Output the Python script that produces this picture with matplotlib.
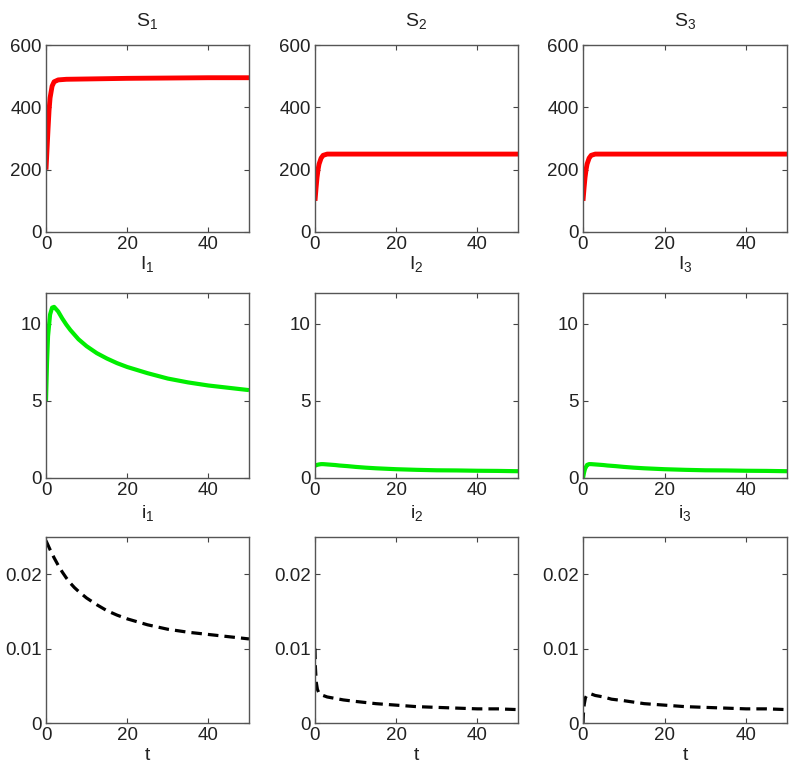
import matplotlib
matplotlib.use("Agg")
import matplotlib.pyplot as plt

plt.rcParams["font.family"] = ["Liberation Sans", "DejaVu Sans"]
plt.rcParams["mathtext.default"] = "regular"

# ---------- data ----------
t_S = [0, 0.25, 0.5, 0.75, 1, 1.5, 2, 3, 5, 10, 20, 30, 40, 50]
S1 = [200, 265, 330, 390, 430, 468, 482, 488, 490, 491, 493, 494, 495, 495]
S2 = [100, 140, 175, 200, 218, 237, 246, 250, 250, 250, 250, 250, 250, 250]
S3 = [100, 140, 175, 200, 218, 237, 246, 250, 250, 250, 250, 250, 250, 250]

t_I = [0, 0.25, 0.5, 1, 1.5, 2, 3, 4, 5, 6, 8, 10, 12.5, 15, 17.5, 20, 25,
       30, 35, 40, 45, 50]
I1 = [5, 7.5, 9.2, 10.6, 11.05, 11.1, 10.8, 10.35, 9.95, 9.6, 9.0, 8.55, 8.1,
      7.75, 7.45, 7.2, 6.8, 6.45, 6.2, 6.0, 5.85, 5.7]
I2 = [0.8, 0.82, 0.85, 0.88, 0.9, 0.9, 0.88, 0.86, 0.84, 0.81, 0.77, 0.72,
      0.67, 0.63, 0.6, 0.57, 0.53, 0.5, 0.49, 0.47, 0.46, 0.44]
I3 = [0, 0.35, 0.6, 0.85, 0.9, 0.9, 0.88, 0.86, 0.84, 0.81, 0.77, 0.72,
      0.67, 0.63, 0.6, 0.57, 0.53, 0.5, 0.49, 0.47, 0.46, 0.44]

t_i1 = [0, 1, 2, 3, 4, 5, 6, 7, 8, 10, 12.5, 15, 17.5, 20, 25, 30, 35, 40, 45, 50]
i1 = [0.0245, 0.0233, 0.0222, 0.0212, 0.0203, 0.0195, 0.0188, 0.0182, 0.0177,
      0.0168, 0.0159, 0.0151, 0.0145, 0.0140, 0.0132, 0.0126, 0.0122, 0.0119,
      0.0116, 0.0113]
t_i23 = [0, 0.1, 0.3, 0.6, 1, 2, 3, 5, 7, 10, 15, 20, 25, 30, 35, 40, 45, 50]
i2 = [0.0100, 0.0075, 0.0055, 0.0045, 0.0040, 0.0037, 0.0035, 0.0033, 0.0031,
      0.0029, 0.0026, 0.0024, 0.0022, 0.0021, 0.0020, 0.0019, 0.0019, 0.0018]
i3 = [0, 0.0012, 0.0025, 0.0034, 0.0038, 0.0039, 0.0037, 0.0035, 0.0032,
      0.0030, 0.0026, 0.0024, 0.0022, 0.0021, 0.0020, 0.0019, 0.0019, 0.0018]

rows = [
    # (title prefix, series, ylim, yticks, style)
    ("S", [(t_S, S1), (t_S, S2), (t_S, S3)], (0, 600), [0, 200, 400, 600],
     dict(color="#ff0000", lw=3.5)),
    ("I", [(t_I, I1), (t_I, I2), (t_I, I3)], (0, 12), [0, 5, 10],
     dict(color="#00ee00", lw=3.0)),
    ("i", [(t_i1, i1), (t_i23, i2), (t_i23, i3)], (0, 0.025), [0, 0.01, 0.02],
     dict(color="black", lw=2.3, ls=(0, (3.3, 1.9)))),
]
ytick_labels = [["0", "200", "400", "600"], ["0", "5", "10"], ["0", "0.01", "0.02"]]
title_pad = [14, 17, 14]

W, H = 800, 779
col_left = [46, 315, 583]
col_width = [203, 203, 204]
row_top = [45, 293, 537]
row_height = [187, 185, 186]

fig = plt.figure(figsize=(8, 7.79), dpi=100)
fig.patch.set_facecolor("white")

for r, (name, series, ylim, yticks, style) in enumerate(rows):
    for c, (x, y) in enumerate(series):
        ax = fig.add_axes([col_left[c] / W, 1 - (row_top[r] + row_height[r]) / H,
                           col_width[c] / W, row_height[r] / H])
        ax.plot(x, y, solid_capstyle="butt", dash_capstyle="butt", **style)
        ax.set_xlim(0, 50)
        ax.set_ylim(*ylim)
        ax.set_xticks([0, 20, 40])
        ax.set_yticks(yticks)
        ax.set_yticklabels(ytick_labels[r])
        ax.tick_params(direction="in", top=True, right=True, length=3.5,
                       width=0.8, labelsize=13.5, colors="#444444",
                       labelcolor="#222222", pad=3)
        for sp in ax.spines.values():
            sp.set_color("#555555")
            sp.set_linewidth(1.0)
        ax.set_title(f"${name}_{c + 1}$", fontsize=14, color="#222222",
                     pad=title_pad[r])
        if r == 2:
            ax.set_xlabel("t", fontsize=14, color="#222222", labelpad=2)

fig.savefig("out.png", dpi=100, facecolor="white")
